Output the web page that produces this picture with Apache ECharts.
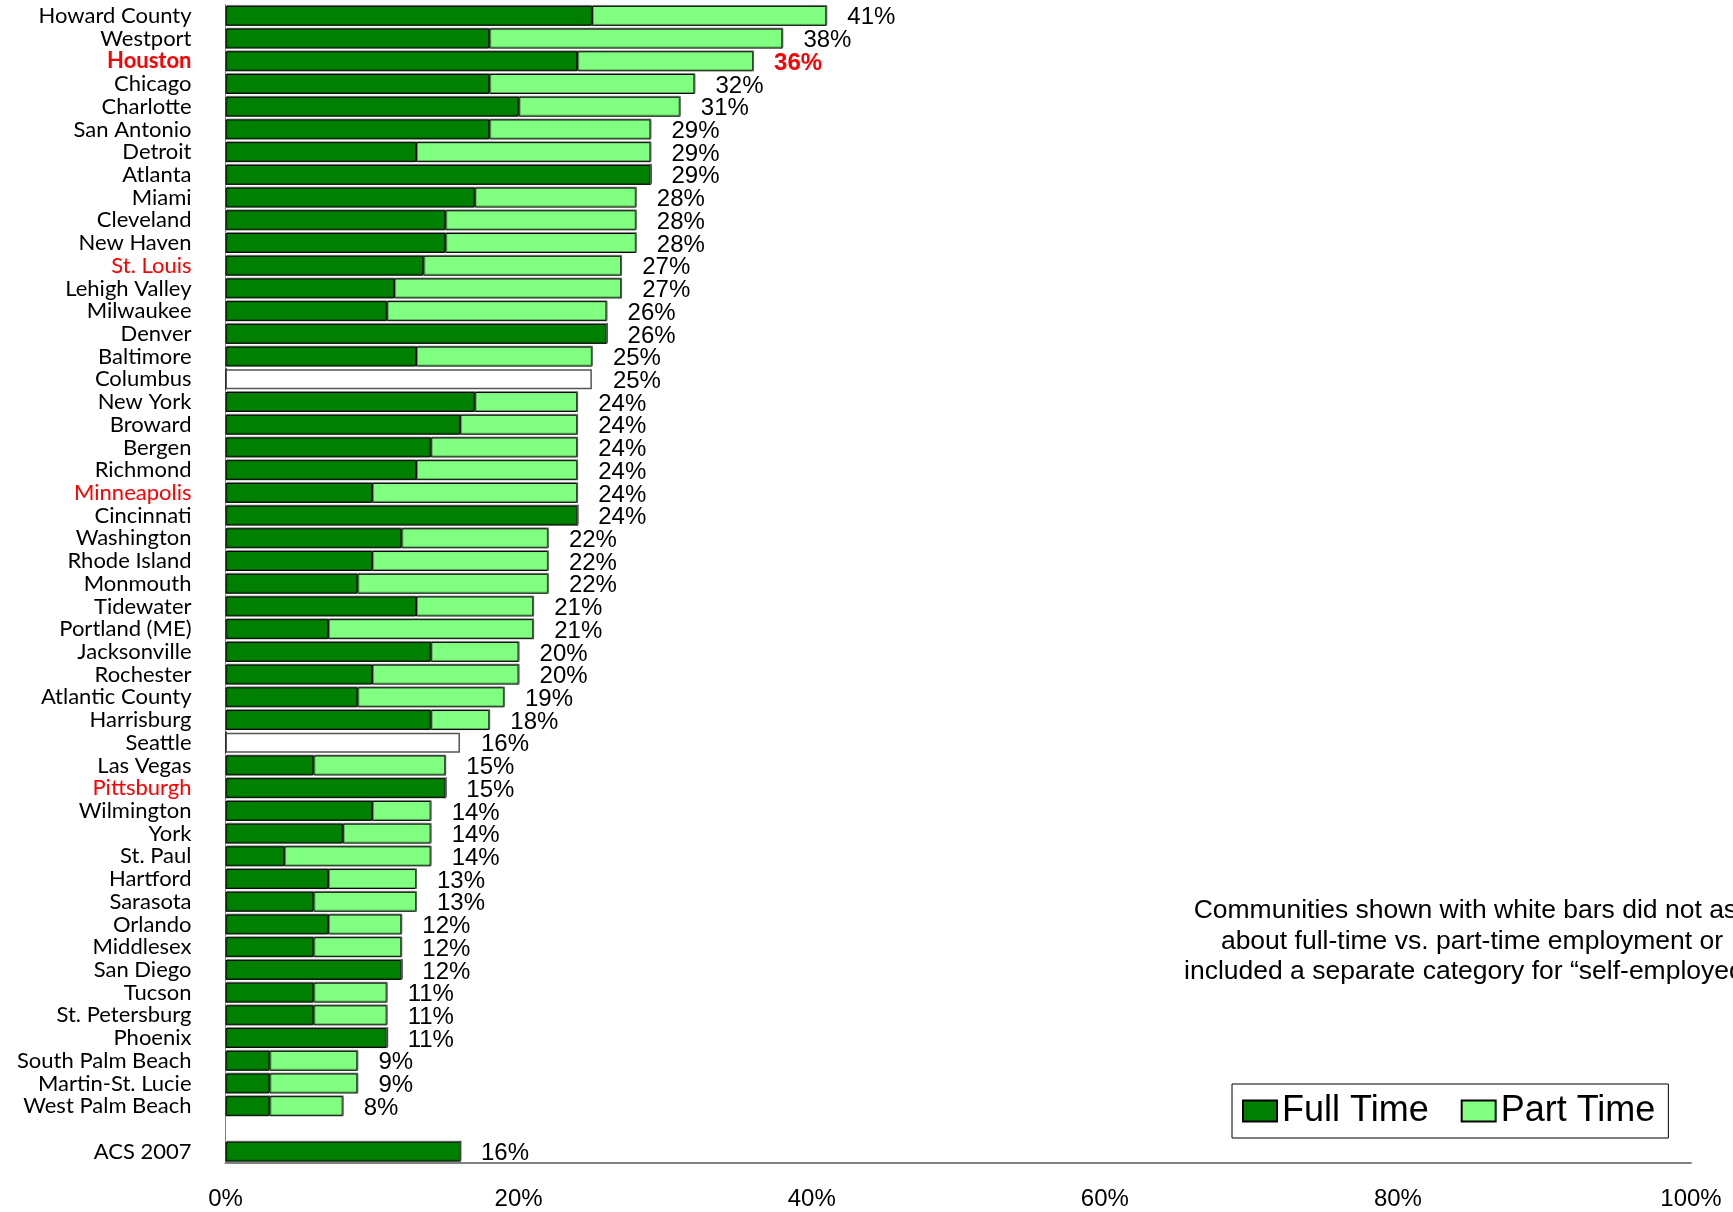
<!DOCTYPE html>
<html>
<head>
<meta charset="utf-8">
<script src="https://cdn.jsdelivr.net/npm/echarts@6/dist/echarts.min.js"></script>
<style>
  html, body { margin: 0; padding: 0; background: #fff; }
  #chart { width: 1733px; height: 1212px; }
</style>
</head>
<body>
<div id="chart"></div>
<script>
// categories top to bottom ('' is the spacer row before ACS)
const cities = [
  'Howard County', 'Westport', 'Houston', 'Chicago', 'Charlotte', 'San Antonio', 'Detroit',
  'Atlanta', 'Miami', 'Cleveland', 'New Haven', 'St. Louis', 'Lehigh Valley', 'Milwaukee',
  'Denver', 'Baltimore', 'Columbus', 'New York', 'Broward', 'Bergen', 'Richmond',
  'Minneapolis', 'Cincinnati', 'Washington', 'Rhode Island', 'Monmouth', 'Tidewater',
  'Portland (ME)', 'Jacksonville', 'Rochester', 'Atlantic County', 'Harrisburg', 'Seattle',
  'Las Vegas', 'Pittsburgh', 'Wilmington', 'York', 'St. Paul', 'Hartford', 'Sarasota',
  'Orlando', 'Middlesex', 'San Diego', 'Tucson', 'St. Petersburg', 'Phoenix',
  'South Palm Beach', 'Martin-St. Lucie', 'West Palm Beach', '', 'ACS 2007'
];
const fullTime = [
  25, 18, 24, 18, 20, 18, 13,
  29, 17, 15, 15, 13.5, 11.5, 11,
  26, 13, 0, 17, 16, 14, 13,
  10, 24, 12, 10, 9, 13,
  7, 14, 10, 9, 14, 0,
  6, 15, 10, 8, 4, 7, 6,
  7, 6, 12, 6, 6, 11,
  3, 3, 3, null, 16
];
const partTime = [
  16, 20, 12, 14, 11, 11, 16,
  0, 11, 13, 13, 13.5, 15.5, 15,
  0, 12, 0, 7, 8, 10, 11,
  14, 0, 10, 12, 13, 8,
  14, 6, 10, 10, 4, 0,
  9, 0, 4, 6, 10, 6, 7,
  5, 6, 0, 5, 5, 0,
  6, 6, 5, null, 0
];
// communities that did not split full/part time (white bars)
const notSplit = [
  0, 0, 0, 0, 0, 0, 0,
  0, 0, 0, 0, 0, 0, 0,
  0, 0, 25, 0, 0, 0, 0,
  0, 0, 0, 0, 0, 0,
  0, 0, 0, 0, 0, 16,
  0, 0, 0, 0, 0, 0, 0,
  0, 0, 0, 0, 0, 0,
  0, 0, 0, null, 0
];
// printed totals
const totals = [
  41, 38, 36, 32, 31, 29, 29,
  29, 28, 28, 28, 27, 27, 26,
  26, 25, 25, 24, 24, 24, 24,
  24, 24, 22, 22, 22, 21,
  21, 20, 20, 19, 18, 16,
  15, 15, 14, 14, 14, 13, 13,
  12, 12, 12, 11, 11, 11,
  9, 9, 8, null, 16
];
const xTicks = [0, 20, 40, 60, 80, 100];
const redCities = ['St. Louis', 'Minneapolis', 'Pittsburgh'];
const boldRedCities = ['Houston'];

const chart = echarts.init(document.getElementById('chart'));

const dark = '#008000';
const light = '#80FF80';

const segStyle = (c) => ({
  color: c,
  borderColor: '#000',
  borderWidth: 1,
  shadowColor: 'rgba(0,0,0,0.35)',
  shadowOffsetX: 1,
  shadowOffsetY: -1,
});

const labelData = totals.map((t, i) => {
  if (t == null) return null;
  const item = { value: [t, i] };
  if (boldRedCities.includes(cities[i])) {
    item.label = { color: '#FF0000', fontWeight: 'bold' };
  }
  return item;
}).filter((d) => d);

const option = {
  animation: false,
  backgroundColor: '#fff',
  grid: { left: 225.5, right: 42, top: 4.5, bottom: 49, containLabel: false },
  legend: {
    data: ['Full Time', 'Part Time'],
    left: 1232,
    top: 1084,
    orient: 'horizontal',
    padding: [9, 13, 9, 10],
    itemGap: 32,
    itemWidth: 34,
    itemHeight: 21,
    borderColor: '#000',
    borderWidth: 1,
    icon: 'rect',
    textStyle: { fontFamily: 'Liberation Sans', fontSize: 36, color: '#000' },
  },
  xAxis: {
    type: 'value',
    min: 0,
    max: 100,
    interval: 20,
    axisLine: { show: true, lineStyle: { color: '#808080', width: 2 } },
    axisTick: { show: false },
    splitLine: { show: false },
    axisLabel: {
      margin: 24,
      fontFamily: 'Liberation Sans',
      fontSize: 24,
      color: '#000',
      formatter: (v) => (xTicks.includes(v) ? v + '%' : ''),
    },
  },
  yAxis: {
    type: 'category',
    inverse: true,
    data: cities,
    axisLine: { show: true, lineStyle: { color: '#808080', width: 1 } },
    axisTick: { show: false },
    axisLabel: {
      margin: 34,
      fontFamily: 'Lato',
      fontSize: 22,
      color: '#000',
      interval: 0,
      formatter: (v) => {
        if (boldRedCities.includes(v)) return '{hb|' + v + '}';
        if (redCities.includes(v)) return '{r|' + v + '}';
        return v;
      },
      rich: {
        hb: { color: '#FF0000', fontWeight: 'bold', fontFamily: 'Lato', fontSize: 22 },
        r: { color: '#FF0000', fontFamily: 'Lato', fontSize: 22 },
      },
    },
  },
  series: [
    {
      name: 'Full Time',
      type: 'bar',
      stack: 'tot',
      barCategoryGap: '12%',
      data: fullTime,
      itemStyle: segStyle(dark),
    },
    {
      name: 'Part Time',
      type: 'bar',
      stack: 'tot',
      data: partTime,
      itemStyle: segStyle(light),
    },
    {
      name: 'Not split',
      type: 'bar',
      stack: 'tot',
      data: notSplit,
      itemStyle: { color: '#fff', borderColor: '#555', borderWidth: 1.5 },
    },
    {
      name: 'Totals',
      type: 'scatter',
      symbolSize: 0,
      itemStyle: { color: '#000' },
      data: labelData,
      silent: true,
      label: {
        show: true,
        position: 'right',
        distance: 21,
        offset: [0, 2],
        fontFamily: 'Liberation Sans',
        fontSize: 24,
        color: '#000',
        opacity: 1,
        formatter: (p) => p.value[0] + '%',
      },
    },
  ],
  graphic: [
    {
      type: 'text',
      x: 1472,
      y: 896,
      style: {
        text: 'Communities shown with white bars did not ask\nabout full-time vs. part-time employment or\nincluded a separate category for \u201cself-employed.\u201d',
        font: '26.5px "Liberation Sans"',
        fill: '#000',
        align: 'center',
        verticalAlign: 'top',
        lineHeight: 30.3,
      },
    },
  ],
};

chart.setOption(option);
</script>
</body>
</html>
